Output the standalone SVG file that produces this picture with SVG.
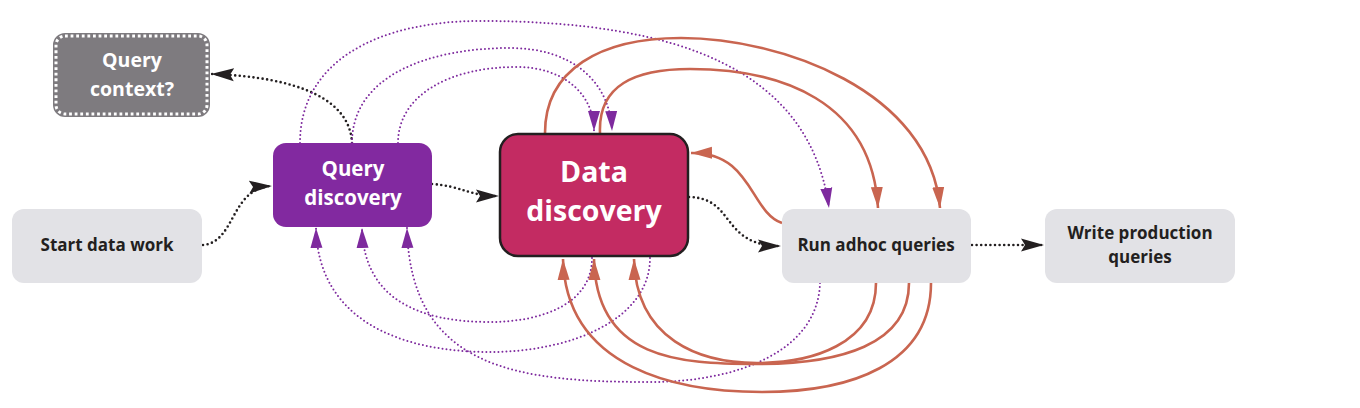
<svg xmlns="http://www.w3.org/2000/svg" width="1360" height="408" viewBox="0 0 1360 408">
<style>
.t{font-family:"Open Sans","Liberation Sans",sans-serif;font-weight:700;text-anchor:middle}
.dk{fill:#231f20;font-size:17px}
.wh{fill:#ffffff}
.bk{fill:none;stroke:#231f20;stroke-width:2.6;stroke-linecap:round;stroke-dasharray:0 4.6}
.pu{fill:none;stroke:#7e2a9e;stroke-width:2;stroke-linecap:round;stroke-dasharray:0 4}
.or{fill:none;stroke:#c96550;stroke-width:2.6}
.lb{fill:#e2e2e6}
</style>
<defs>
<marker id="ab" markerWidth="24" markerHeight="14" refX="23" refY="7" orient="auto" markerUnits="userSpaceOnUse"><path d="M0,0.5 L23,7 L0,13.5 L4,7 z" fill="#231f20"/></marker>
<marker id="ap" markerWidth="21" markerHeight="13" refX="20" refY="6.5" orient="auto" markerUnits="userSpaceOnUse"><path d="M0,0.5 L20,6.5 L0,12.5 z" fill="#7e2a9e"/></marker>
<marker id="ao" markerWidth="22" markerHeight="13" refX="21" refY="6.5" orient="auto" markerUnits="userSpaceOnUse"><path d="M0,0.5 L21,6.5 L0,12.5 z" fill="#c96550"/></marker>
</defs>

<g id="connectors">
<!-- black dotted flow -->
<path class="bk" d="M203,245 C236,242 230,188 272,186" marker-end="url(#ab)"/>
<path class="bk" d="M352,143 C350,100 300,77 211,74" marker-end="url(#ab)"/>
<path class="bk" d="M432,184 C462,186 468,196 499,196" marker-end="url(#ab)"/>
<path class="bk" d="M689,197 C736,198 720,246 781,246" marker-end="url(#ab)"/>
<path class="bk" d="M972,245 L1044,245" marker-end="url(#ab)"/>
<!-- purple top loops -->
<path class="pu" d="M300,143 C300,60 380,21 480,21 C680,21 810,70 829,208" marker-end="url(#ap)"/>
<path class="pu" d="M352,143 C352,75 430,48 510,48 C570,48 610,80 612,131" marker-end="url(#ap)"/>
<path class="pu" d="M398,143 C398,95 450,67 516,67 C565,67 594,95 594,131" marker-end="url(#ap)"/>
<!-- purple bottom loops -->
<path class="pu" d="M592,258 C592,305 540,322 490,322 C420,322 364,300 362,228" marker-end="url(#ap)"/>
<path class="pu" d="M650,258 C650,320 570,352 490,352 C400,352 318,320 316,228" marker-end="url(#ap)"/>
<path class="pu" d="M820,283 C818,350 740,382 650,382 C520,382 410,370 407,228" marker-end="url(#ap)"/>
<!-- orange top loops -->
<path class="or" d="M545,133 C545,70 600,38 681,38 C780,38 930,90 940,208" marker-end="url(#ao)"/>
<path class="or" d="M600,133 C598,85 635,69 690,69 C780,69 872,100 878,208" marker-end="url(#ao)"/>
<!-- orange back to data discovery -->
<path class="or" d="M782,223 C750,212 752,152 691,153" marker-end="url(#ao)"/>
<!-- orange bottom loops -->
<path class="or" d="M876,283 C876,345 810,363 757,363 C700,363 636,340 634,259" marker-end="url(#ao)"/>
<path class="or" d="M909,283 C909,345 840,364 757,364 C680,364 596,360 594,259" marker-end="url(#ao)"/>
<path class="or" d="M931,283 C931,365 850,392 762,392 C680,392 566,370 563,259" marker-end="url(#ao)"/>
</g>

<g id="node-query-context">
<rect x="55" y="35" width="153" height="80" rx="10" fill="#7e7b7f" stroke="#7e7b7f" stroke-width="4"/>
<rect x="56" y="36" width="151" height="78" rx="9" fill="none" stroke="#ffffff" stroke-width="3" stroke-dasharray="2.8 2.8"/>
<text class="t wh" x="132" y="67" font-size="19.5">Query</text>
<text class="t wh" x="132" y="96" font-size="19.5">context?</text>
</g>

<g id="node-start">
<rect class="lb" x="12" y="209" width="190" height="74" rx="12"/>
<text class="t dk" x="107" y="251">Start data work</text>
</g>

<g id="node-query-discovery">
<rect x="273" y="143" width="159" height="84" rx="13" fill="#8229a0"/>
<text class="t wh" x="353" y="176" font-size="20.5">Query</text>
<text class="t wh" x="353" y="205" font-size="20.5">discovery</text>
</g>

<g id="node-data-discovery">
<rect x="500" y="134" width="188" height="122" rx="18" fill="#c32b62" stroke="#231f20" stroke-width="2.5"/>
<text class="t wh" x="594" y="182" font-size="28.5">Data</text>
<text class="t wh" x="594" y="221" font-size="28.5">discovery</text>
</g>

<g id="node-run-adhoc">
<rect class="lb" x="782" y="209" width="189" height="74" rx="12"/>
<text class="t dk" x="876" y="251">Run adhoc queries</text>
</g>

<g id="node-write-production">
<rect class="lb" x="1045" y="209" width="190" height="74" rx="12"/>
<text class="t dk" x="1140" y="239">Write production</text>
<text class="t dk" x="1140" y="263">queries</text>
</g>
</svg>
